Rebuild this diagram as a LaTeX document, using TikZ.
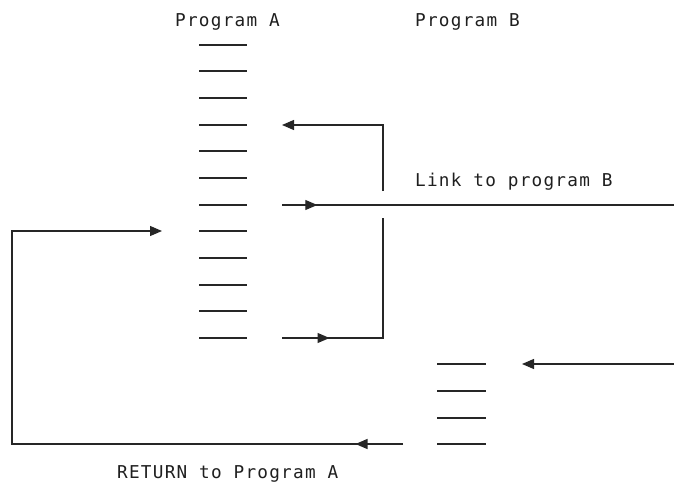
\documentclass[tikz,border=0pt]{standalone}
\usepackage{fontspec}
\setmonofont[LetterSpace=7]{DejaVu Sans Mono}
\usetikzlibrary{arrows.meta,decorations.markings}
\tikzset{
  lbl/.style={font=\ttfamily\fontsize{17.7}{20}\selectfont, anchor=base west, inner sep=0pt, text=black!88},
  stmt/.style={line width=1.2pt, black!85},
  conn/.style={line width=1.2pt, black!85},
  tipend/.style={-{Triangle[length=12pt,width=10pt]}},
  midarrow/.style={postaction={decorate}, decoration={markings, mark=at position #1 with {\arrow{Triangle[length=12pt,width=10pt]}}}},
}
\begin{document}
\begin{tikzpicture}[x=1pt,y=-1pt]
\useasboundingbox (0,0) rectangle (674,484);
% labels
\node[lbl] (pa) at (175,27) {Program A};
\node[lbl] (pb) at (415,27) {Program B};
\node[lbl] (lk) at (415,186) {Link to program B};
\node[lbl] (rt) at (117,478) {RETURN to Program A};
% program A statements
\foreach \y [count=\i] in {45,71,98,125,151,178,205,231,258,285,311,338} {
  \coordinate (a\i w) at (199,\y);
  \coordinate (a\i e) at (247,\y);
  \draw[stmt] (a\i w) -- (a\i e);
}
% program B statements
\foreach \y [count=\i] in {364,391,418,444} {
  \coordinate (b\i w) at (437,\y);
  \coordinate (b\i e) at (486,\y);
  \draw[stmt] (b\i w) -- (b\i e);
}
% connector coordinates
\coordinate (loopTop) at (383,125);
\coordinate (loopTopTip) at (282,125);
\coordinate (gapTop) at (383,191);
\coordinate (gapBot) at (383,218);
\coordinate (loopBot) at (383,338);
\coordinate (loopStart) at (282,338);
\coordinate (linkStart) at (282,205);
\coordinate (linkEnd) at (674,205);
\coordinate (inRight) at (674,364);
\coordinate (inTip) at (522,364);
\coordinate (retStart) at (403,444);
\coordinate (retCorner) at (12,444);
\coordinate (retUp) at (12,231);
\coordinate (retTip) at (162,231);
% loop back inside program A
\draw[conn,tipend] (gapTop) -- (loopTop) -- (loopTopTip);
\draw[conn,midarrow=0.215] (loopStart) -- (loopBot) -- (gapBot);
% link to program B
\draw[conn,midarrow=0.09] (linkStart) -- (linkEnd);
% entry into program B
\draw[conn,tipend] (inRight) -- (inTip);
% return to program A
\draw[conn,midarrow=0.063,tipend] (retStart) -- (retCorner) -- (retUp) -- (retTip);
\end{tikzpicture}
\end{document}
